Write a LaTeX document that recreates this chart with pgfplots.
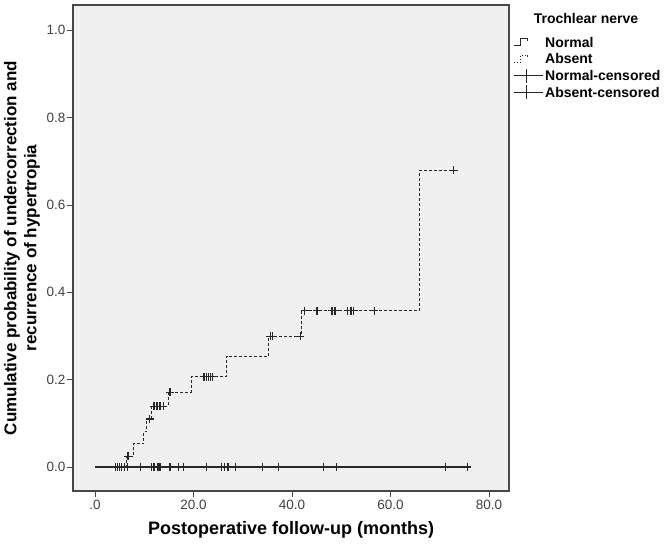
\documentclass[border=0pt]{standalone}
\usepackage{pgfplots}
\pgfplotsset{compat=1.18}
\usepackage{fontspec}
\setmainfont{Liberation Sans}

\definecolor{bgcol}{HTML}{F0F0F0}
\definecolor{framecol}{HTML}{484848}
\definecolor{linecol}{HTML}{282828}
\definecolor{ticktext}{HTML}{404040}

% censored cases, trochlear nerve normal
\pgfplotstableread{
x    y
4.2  0
4.6  0
5.0  0
5.4  0
6.0  0
6.6  0
9.3  0
11.5 0
12.0 0
12.8 0
13.0 0
13.3 0
15.2 0
17.0 0
18.0 0
22.6 0
25.7 0
26.3 0
27.0 0
28.5 0
34.0 0
37.3 0
46.4 0
49.1 0
71.2 0
75.6 0
}\normalcens

% cumulative incidence, trochlear nerve absent
\pgfplotstableread{
x    y
0    0
6.4  0.024
7.8  0.053
9.9  0.081
10.5 0.110
11.5 0.139
14.9 0.171
19.5 0.207
26.7 0.254
35.3 0.299
42.0 0.358
65.8 0.679
72.8 0.679
}\absentcurve

% censored cases, trochlear nerve absent
\pgfplotstableread{
x    y
6.7  0.024
11.1 0.110
12.0 0.139
12.6 0.139
13.2 0.139
13.9 0.139
15.2 0.171
22.1 0.207
22.6 0.207
23.0 0.207
23.4 0.207
23.8 0.207
35.6 0.299
36.1 0.299
41.7 0.299
42.6 0.358
45.1 0.358
48.1 0.358
48.7 0.358
51.3 0.358
52.0 0.358
52.5 0.358
56.7 0.358
72.8 0.679
}\absentcens

\begin{document}
\begin{tikzpicture}
\path[use as bounding box] (-73pt,-57pt) rectangle (594pt,491pt);
\begin{axis}[
  name=ax,
  scale only axis,
  width=436pt, height=486pt,
  xmin=-4.47, xmax=84.06,
  ymin=-0.055, ymax=1.058,
  axis background/.style={fill=bgcol},
  axis line style={draw=framecol, line width=1.5pt},
  tick align=outside,
  major tick length=6pt,
  tick style={draw=framecol, line width=0.8pt},
  xtick pos=bottom, ytick pos=left,
  xtick={0,20,40,60,80},
  xticklabels={.0,20.0,40.0,60.0,80.0},
  ytick={0,0.2,0.4,0.6,0.8,1.0},
  yticklabels={0.0,0.2,0.4,0.6,0.8,1.0},
  ticklabel style={font=\fontsize{13.5}{15}\selectfont, text=ticktext},
  yticklabel style={xshift=2pt},
  /pgf/number format/assume math mode=true,
  xlabel={Postoperative follow-up (months)},
  xlabel style={font=\bfseries\fontsize{18}{20}\selectfont,
    at={(axis description cs:0.5,0)}, anchor=center, yshift=-39pt},
  ylabel={Cumulative probability of undercorrection and\\recurrence of hypertropia},
  ylabel style={font=\bfseries\fontsize{17}{20}\selectfont, align=center,
    at={(axis description cs:0,0.5)}, anchor=center, yshift=51pt},
  legend style={at={(axis description cs:1,1)}, anchor=north west,
    xshift=4pt, yshift=-32pt, draw=none, fill=none, inner sep=0pt,
    font=\bfseries\fontsize{14}{16}\selectfont,
    nodes={inner sep=0pt, text height=10pt, text depth=0pt},
    row sep=6.7pt, column sep=2pt,
    cells={anchor=west}},
  legend cell align=left,
]
\addlegendimage{legend image code/.code={
  \draw[linecol, line width=1pt] (0pt,-3.5pt) -- (7pt,-3.5pt) -- (7pt,3.5pt) -- (14pt,3.5pt) -- (14pt,1pt);
  \path (29pt,0pt);}}
\addlegendentry{Normal}
\addlegendimage{legend image code/.code={
  \draw[linecol, line width=0.8pt, dash pattern=on 1.5pt off 1.5pt] (0pt,-3.5pt) -- (7pt,-3.5pt) -- (7pt,3.5pt) -- (14pt,3.5pt) -- (14pt,1pt);
  \path (29pt,0pt);}}
\addlegendentry{Absent}
\addlegendimage{legend image code/.code={
  \draw[linecol, line width=1pt] (0pt,0pt) -- (29pt,0pt);
  \draw[overlay, linecol, line width=1pt] (13pt,-7pt) -- (13pt,7pt);}}
\addlegendentry{Normal-censored}
\addlegendimage{legend image code/.code={
  \draw[linecol, line width=1pt] (0pt,0pt) -- (29pt,0pt);
  \draw[overlay, linecol, line width=1pt] (13pt,-7pt) -- (13pt,7pt);}}
\addlegendentry{Absent-censored}

% Normal: no events, flat line
\addplot[forget plot, linecol, line width=1.3pt] coordinates {(0,0) (75.6,0)};
% Absent: step curve
\addplot[forget plot, const plot mark left, linecol, line width=1pt,
  dash pattern=on 3pt off 2pt] table[x=x, y=y] {\absentcurve};
% censor marks
\addplot[forget plot, only marks, mark=+, mark size=4pt,
  mark options={line width=1.3pt, draw=linecol}] table[x=x, y=y] {\normalcens};
\addplot[forget plot, only marks, mark=+, mark size=4pt,
  mark options={line width=1.3pt, draw=linecol}] table[x=x, y=y] {\absentcens};
\end{axis}
\node[font=\bfseries\fontsize{14}{16}\selectfont, anchor=center,
  xshift=77pt, yshift=-14pt] at (ax.north east) {Trochlear nerve};
\end{tikzpicture}
\end{document}
